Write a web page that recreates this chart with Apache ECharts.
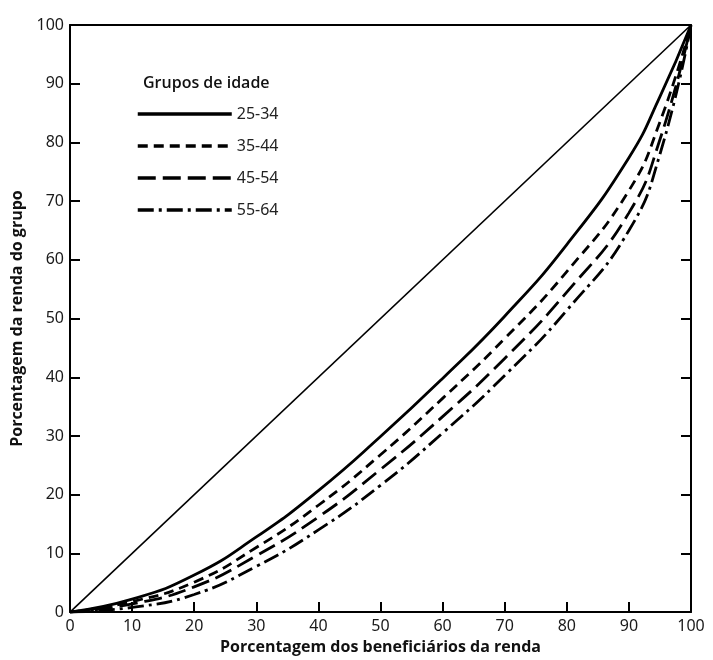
<!DOCTYPE html>
<html>
<head>
<meta charset="utf-8">
<script src="https://cdn.jsdelivr.net/npm/echarts@6/dist/echarts.min.js"></script>
<style>
  html, body { margin: 0; padding: 0; background: #fff; }
  #chart { width: 713px; height: 660px; }
</style>
</head>
<body>
<div id="chart"></div>
<script>
// percentual acumulado dos beneficiários (eixo x)
var xs = [0, 10, 20, 30, 40, 50, 60, 70, 80, 90, 95, 100];
// percentual acumulado da renda por grupo de idade
var g25_34 = [0, 2.2, 6.3, 12.8, 20.7, 29.9, 39.8, 50.4, 62.6, 77.4, 87.8, 100];
var g35_44 = [0, 1.8, 5.1, 11, 18.2, 26.8, 36.4, 46.6, 58, 71.8, 83.5, 100];
var g45_54 = [0, 1.4, 4.3, 9.6, 16.2, 24.3, 33.3, 43.2, 54.5, 68, 80.5, 100];
var g55_64 = [0, 0.8, 3.0, 7.8, 14, 21.6, 30.5, 40.3, 51.4, 65, 78, 100];
var groups = ['25-34', '35-44', '45-54', '55-64'];

function pairs(ys) {
  var out = [];
  for (var i = 0; i < xs.length; i++) out.push([xs[i], ys[i]]);
  return out;
}

var chart = echarts.init(document.getElementById('chart'));
var labelFont = { color: '#1a1a1a', fontSize: 16, fontFamily: 'Noto Sans' };

function curve(name, ys, dash, w) {
  return {
    name: name,
    type: 'line',
    data: pairs(ys),
    smooth: 0.5,
    showSymbol: false,
    symbol: 'none',
    lineStyle: { color: '#000', width: w, type: dash, cap: 'butt' },
    itemStyle: { color: '#000' },
    z: 3
  };
}

var frameLine = { show: true, onZero: false, lineStyle: { color: '#000', width: 2 } };

var option = {
  animation: false,
  backgroundColor: '#fff',
  title: {
    text: 'Grupos de idade',
    left: 138,
    top: 70,
    textStyle: { fontFamily: 'Open Sans', fontSize: 16, fontWeight: 600, color: '#111' }
  },
  legend: {
    data: groups,
    orient: 'vertical',
    left: 131,
    top: 101,
    itemWidth: 94,
    itemHeight: 14,
    itemGap: 16,
    itemStyle: { opacity: 0 },
    lineStyle: { width: 3.5 },
    textStyle: { fontFamily: 'Noto Sans', fontSize: 16, color: '#222' }
  },
  grid: { left: 70, right: 22, top: 25, bottom: 47 },
  xAxis: [{
    type: 'value',
    min: 0, max: 100, interval: 10,
    name: 'Porcentagem dos beneficiários da renda',
    nameLocation: 'middle',
    nameGap: 26,
    nameTextStyle: { fontFamily: 'Open Sans', fontSize: 16, fontWeight: 'bold', color: '#111' },
    axisLine: frameLine,
    axisTick: { inside: true, length: 10, lineStyle: { color: '#000', width: 2 } },
    axisLabel: Object.assign({ margin: 6 }, labelFont),
    splitLine: { show: false }
  }, {
    type: 'value',
    position: 'top',
    min: 0, max: 100, interval: 10,
    axisLine: frameLine,
    axisTick: { show: false },
    axisLabel: { show: false },
    splitLine: { show: false }
  }],
  yAxis: [{
    type: 'value',
    min: 0, max: 100, interval: 10,
    name: 'Porcentagem da renda do grupo',
    nameLocation: 'middle',
    nameGap: 42,
    nameRotate: 90,
    nameTextStyle: { fontFamily: 'Open Sans', fontSize: 16, fontWeight: 'bold', color: '#111' },
    axisLine: frameLine,
    axisTick: { inside: true, length: 10, lineStyle: { color: '#000', width: 2 } },
    axisLabel: Object.assign({ margin: 6 }, labelFont),
    splitLine: { show: false }
  }, {
    type: 'value',
    position: 'right',
    min: 0, max: 100, interval: 10,
    axisLine: frameLine,
    axisTick: { inside: true, length: 10, lineStyle: { color: '#000', width: 2 } },
    axisLabel: { show: false },
    splitLine: { show: false }
  }],
  series: [
    {
      name: 'igualdade',
      type: 'line',
      data: [[0, 0], [100, 100]],
      showSymbol: false,
      symbol: 'none',
      lineStyle: { color: '#000', width: 1.6 },
      z: 2
    },
    curve('25-34', g25_34, 'solid', 2.8),
    curve('35-44', g35_44, [10, 6], 2.8),
    curve('45-54', g45_54, [18, 7], 2.8),
    curve('55-64', g55_64, [16, 5, 3, 5], 2.8)
  ]
};
chart.setOption(option);
</script>
</body>
</html>
